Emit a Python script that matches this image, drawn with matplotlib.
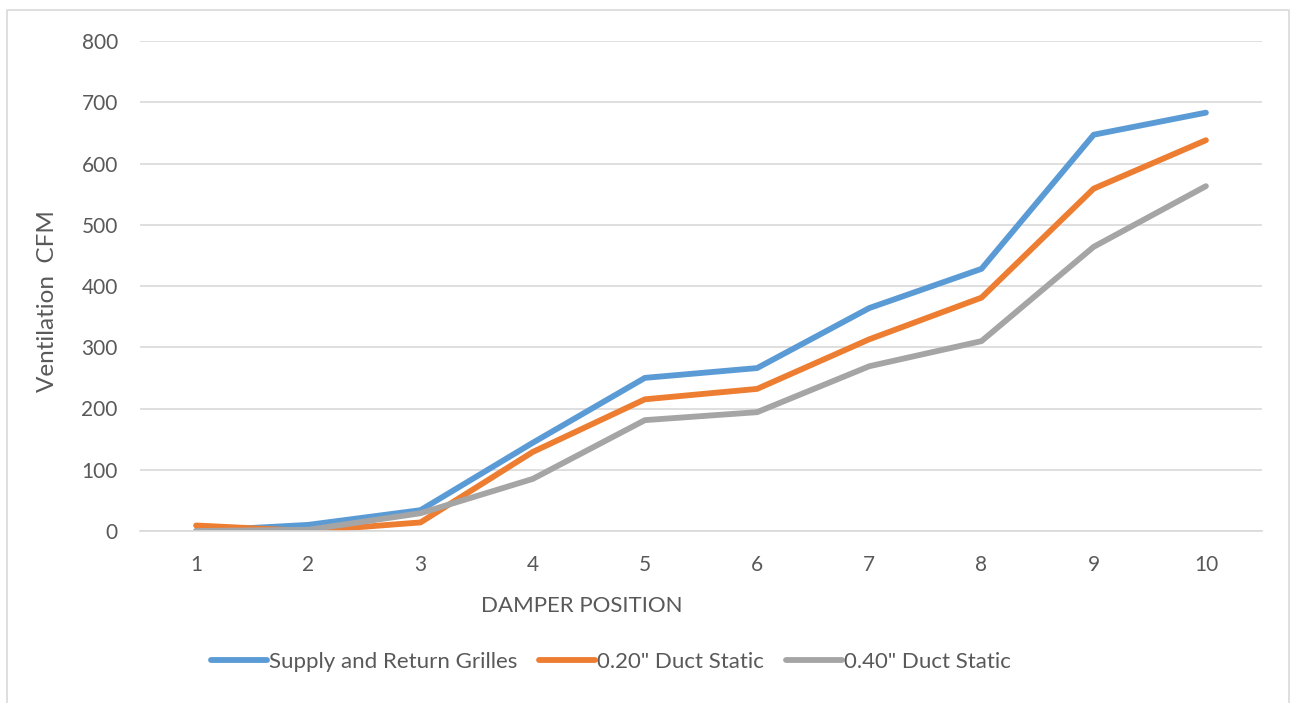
import matplotlib
matplotlib.use("Agg")
import matplotlib.pyplot as plt
from matplotlib.lines import Line2D

positions = [1, 2, 3, 4, 5, 6, 7, 8, 9, 10]
supply_return = [0, 10, 34, 144, 250, 266, 364, 428, 647, 683]
duct_020 = [9, 0, 14, 129, 215, 232, 313, 381, 559, 638]
duct_040 = [0, 2, 29, 85, 181, 194, 269, 310, 464, 563]
series_names = ["Supply and Return Grilles", "0.20\" Duct Static", "0.40\" Duct Static"]
colors = ["#5B9BD5", "#ED7D31", "#A5A5A5"]

plt.rcParams['font.family'] = ['Lato', 'DejaVu Sans']

W, H = 1291, 703
fig = plt.figure(figsize=(W/100, H/100), dpi=100)
ax = fig.add_axes([140/W, 1-531/H, (1262-140)/W, (531-41)/H])

for vals, name, c in zip([supply_return, duct_020, duct_040], series_names, colors):
    ax.plot(positions, vals, color=c, lw=4.2, label=name, solid_capstyle='round', solid_joinstyle='round')

ax.set_xlim(0.5, 10.5)
ax.set_ylim(0, 800)
ax.set_yticks(range(0, 801, 100))
ax.set_xticks(positions)
ax.grid(axis='y', color='#D9D9D9', lw=1.2)
ax.set_axisbelow(True)
for s in ['top', 'right', 'left']:
    ax.spines[s].set_visible(False)
ax.spines['bottom'].set_color('#D9D9D9')
ax.spines['bottom'].set_linewidth(1.2)
ax.tick_params(axis='both', length=0, labelsize=15, colors='#595959')
ax.tick_params(axis='y', pad=16)
ax.tick_params(axis='x', pad=17)

fig.text(582/W, 1-606/H, "DAMPER POSITION", ha='center', va='center', fontsize=16, color='#595959')
fig.text(48/W, 1-301/H, "Ventilation  CFM", ha='center', va='center', rotation=90, fontsize=17.5, color='#595959')

leg = fig.legend(loc='center', bbox_to_anchor=(611/W, 1-662/H), ncol=3, frameon=False,
                 fontsize=16, labelcolor='#595959', handlelength=2.5, handletextpad=0.1,
                 columnspacing=1.0)

border = Line2D([7/W, 7/W, 1289/W, 1289/W], [0, 1-10/H, 1-10/H, 0], transform=fig.transFigure,
                color='#D9D9D9', lw=1.2)
fig.lines.append(border)

fig.savefig("out.png", dpi=100)
